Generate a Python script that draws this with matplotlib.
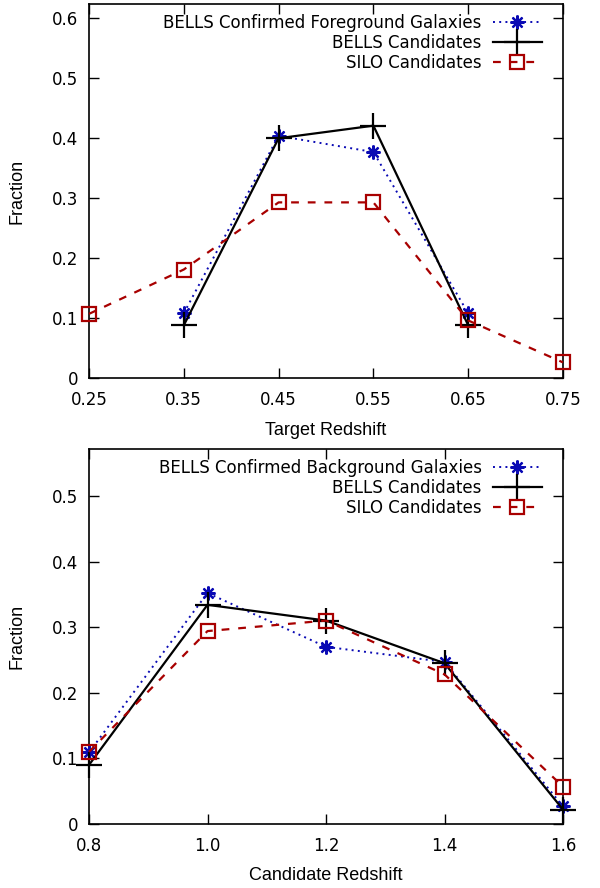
import matplotlib
matplotlib.use("Agg")
import matplotlib.pyplot as plt
from matplotlib.ticker import FixedLocator

# ---- data ----
fg_x = [0.35, 0.45, 0.55, 0.65]
fg_confirmed = [0.108, 0.404, 0.377, 0.108]
fg_bells_x = [0.35, 0.45, 0.55, 0.65]
fg_bells = [0.088, 0.400, 0.421, 0.088]
fg_silo_x = [0.25, 0.35, 0.45, 0.55, 0.65, 0.75]
fg_silo = [0.107, 0.181, 0.293, 0.293, 0.096, 0.026]

bg_x = [0.8, 1.0, 1.2, 1.4, 1.6]
bg_confirmed = [0.109, 0.352, 0.270, 0.247, 0.027]
bg_bells = [0.090, 0.334, 0.310, 0.245, 0.022]
bg_silo = [0.110, 0.294, 0.310, 0.228, 0.057]

top_xticks = [0.25, 0.35, 0.45, 0.55, 0.65, 0.75]
top_xticklabels = ["0.25", "0.35", "0.45", "0.55", "0.65", "0.75"]
bot_xticks = [0.8, 1.0, 1.2, 1.4, 1.6]
bot_xticklabels = ["0.8", "1.0", "1.2", "1.4", "1.6"]
top_yticks = [0, 0.1, 0.2, 0.3, 0.4, 0.5, 0.6]
bot_yticks = [0, 0.1, 0.2, 0.3, 0.4, 0.5]

BLUE = "#0a0ab4"
RED = "#a80000"
BLACK = "#000000"

plt.rcParams["font.family"] = ["DejaVu Sans"]

fig = plt.figure(figsize=(6.0, 8.88), dpi=100)
W, H = 600.0, 888.0
ax1 = fig.add_axes([89 / W, 1 - 378 / H, (563 - 89) / W, (378 - 4) / H])
ax2 = fig.add_axes([89 / W, 1 - 824 / H, (563 - 89) / W, (824 - 449.3) / H])


def style_axes(ax, xticks, xlabels, yticks, xlim, ylim, xlabel, xpad):
    ax.set_xlim(*xlim)
    ax.set_ylim(*ylim)
    ax.xaxis.set_major_locator(FixedLocator(xticks))
    ax.set_xticklabels(xlabels)
    ax.yaxis.set_major_locator(FixedLocator(yticks))
    ax.set_yticklabels(["0" if v == 0 else f"{v:.1f}" for v in yticks])
    ax.tick_params(direction="in", length=7, width=1.0, top=True, right=True,
                   labelsize=12, colors="black")
    ax.tick_params(axis="x", pad=9)
    ax.tick_params(axis="y", pad=8)
    for s in ax.spines.values():
        s.set_linewidth(1.2)
    ax.set_xlabel(xlabel, fontsize=13, family=["Liberation Sans"], labelpad=xpad)
    ax.set_ylabel("Fraction", fontsize=13, family=["Liberation Sans"], labelpad=19)


def draw(ax, xa, ya, xb, yb, xc, yc, first_label):
    ax.plot(xa, ya, color=BLUE, linestyle=(0, (1, 2.2)), linewidth=1.4,
            marker=(8, 2, 0), markersize=10, markeredgewidth=1.6,
            label=first_label, zorder=3)
    ax.plot(xb, yb, color=BLACK, linestyle="-", linewidth=1.6,
            marker="+", markersize=19, markeredgewidth=1.6,
            label="BELLS Candidates", zorder=4)
    ax.plot(xc, yc, color=RED, linestyle=(0, (3.5, 4)), linewidth=1.6,
            marker="s", markersize=10, markerfacecolor="none",
            markeredgewidth=1.6, label="SILO Candidates", zorder=5)
    ax.legend(loc="upper right", bbox_to_anchor=(0.976, 1.0),
              frameon=False, markerfirst=False, fontsize=12,
              handlelength=2.9, handletextpad=0.7, labelspacing=0.12,
              borderaxespad=0.2)


draw(ax1, fg_x, fg_confirmed, fg_bells_x, fg_bells, fg_silo_x, fg_silo,
     "BELLS Confirmed Foreground Galaxies")
style_axes(ax1, top_xticks, top_xticklabels, top_yticks, (0.25, 0.75),
           (0, 0.624), "Target Redshift", 10)

draw(ax2, bg_x, bg_confirmed, bg_x, bg_bells, bg_x, bg_silo,
     "BELLS Confirmed Background Galaxies")
style_axes(ax2, bot_xticks, bot_xticklabels, bot_yticks, (0.8, 1.6),
           (0, 0.571), "Candidate Redshift", 9)

for ax in (ax1, ax2):
    for line in ax.get_lines():
        line.set_clip_on(False)

fig.savefig("out.png", dpi=100)
